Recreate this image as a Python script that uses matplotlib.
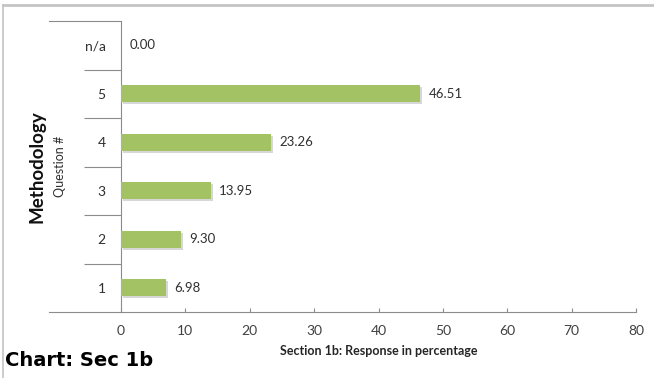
import matplotlib.pyplot as plt
import matplotlib.patheffects as pe
from matplotlib.lines import Line2D

# valeurs de la section 1b
questions = ["1", "2", "3", "4", "5", "n/a"]
pourcentages = [6.98, 9.30, 13.95, 23.26, 46.51, 0.00]
graduations = [0, 10, 20, 30, 40, 50, 60, 70, 80]

vert = "#A2C264"
gris_axe = "#8C8C8C"
police = ["Lato", "DejaVu Sans"]

fig = plt.figure(figsize=(6.54, 3.78), dpi=100)
ax = fig.add_axes([0.185, 0.1746, 0.7875, 0.7698])

pos = list(range(len(questions)))
barres = ax.barh(pos, pourcentages, height=0.35, color=vert, zorder=3)
for b in barres:
    b.set_path_effects([pe.SimplePatchShadow(offset=(1.5, -1.5), shadow_rgbFace="#b0b0b0", alpha=0.5),
                        pe.Normal()])

for p, v in zip(pos, pourcentages):
    ax.annotate("{:.2f}".format(v), (v, p), xytext=(6, 0), textcoords="offset points",
                va="center", ha="left", fontsize=9.5, color="#303030", family=police)

ax.set_xlim(0, 80)
ax.set_ylim(-0.5, len(questions) - 0.5)
ax.set_xticks(graduations)
ax.set_xticklabels([str(g) for g in graduations], family=police, fontsize=10, color="#404040")
ax.set_yticks(pos)
ax.set_yticklabels(questions, family=police, fontsize=10, color="#303030")

# separateurs entre les categories
ax.set_yticks([i + 0.5 for i in pos[:-1]], minor=True)
ax.tick_params(axis="y", which="major", length=0, pad=11)
ax.tick_params(axis="y", which="minor", length=27, width=0.8, color=gris_axe, direction="out")
ax.tick_params(axis="x", which="major", length=3, width=0.8, color=gris_axe, direction="in", pad=9)

for s in ["top", "right"]:
    ax.spines[s].set_visible(False)
ax.spines["left"].set_color(gris_axe)
ax.spines["bottom"].set_color(gris_axe)
ax.spines["left"].set_linewidth(0.8)
ax.spines["bottom"].set_linewidth(0.8)

# lignes prolongees a gauche (haut et bas)
xg = -0.14
for yy in [0, 1]:
    ax.add_line(Line2D([xg, 0], [yy, yy], transform=ax.transAxes, color=gris_axe,
                       lw=0.8, clip_on=False))

ax.set_xlabel("Section 1b: Response in percentage", family=police, fontsize=9,
              fontweight="bold", color="#262626", labelpad=6)

fig.text(0.092, 0.56, "Question #", rotation=90, ha="center", va="center",
         family=police, fontsize=9, color="#303030")
fig.text(0.057, 0.56, "Methodology", rotation=90, ha="center", va="center",
         family=police, fontsize=13.5, fontweight="bold", color="#111111")
fig.text(0.008, 0.02, "Chart: Sec 1b", ha="left", va="bottom",
         fontsize=14, fontweight="bold", color="black")

# cadre gris haut et gauche
fig.add_artist(Line2D([0.005, 1], [0.988, 0.988], transform=fig.transFigure, color="#c4c4c4", lw=2))
fig.add_artist(Line2D([0.005, 0.005], [0, 0.988], transform=fig.transFigure, color="#c4c4c4", lw=1.2))

fig.savefig("out.png", dpi=100)
